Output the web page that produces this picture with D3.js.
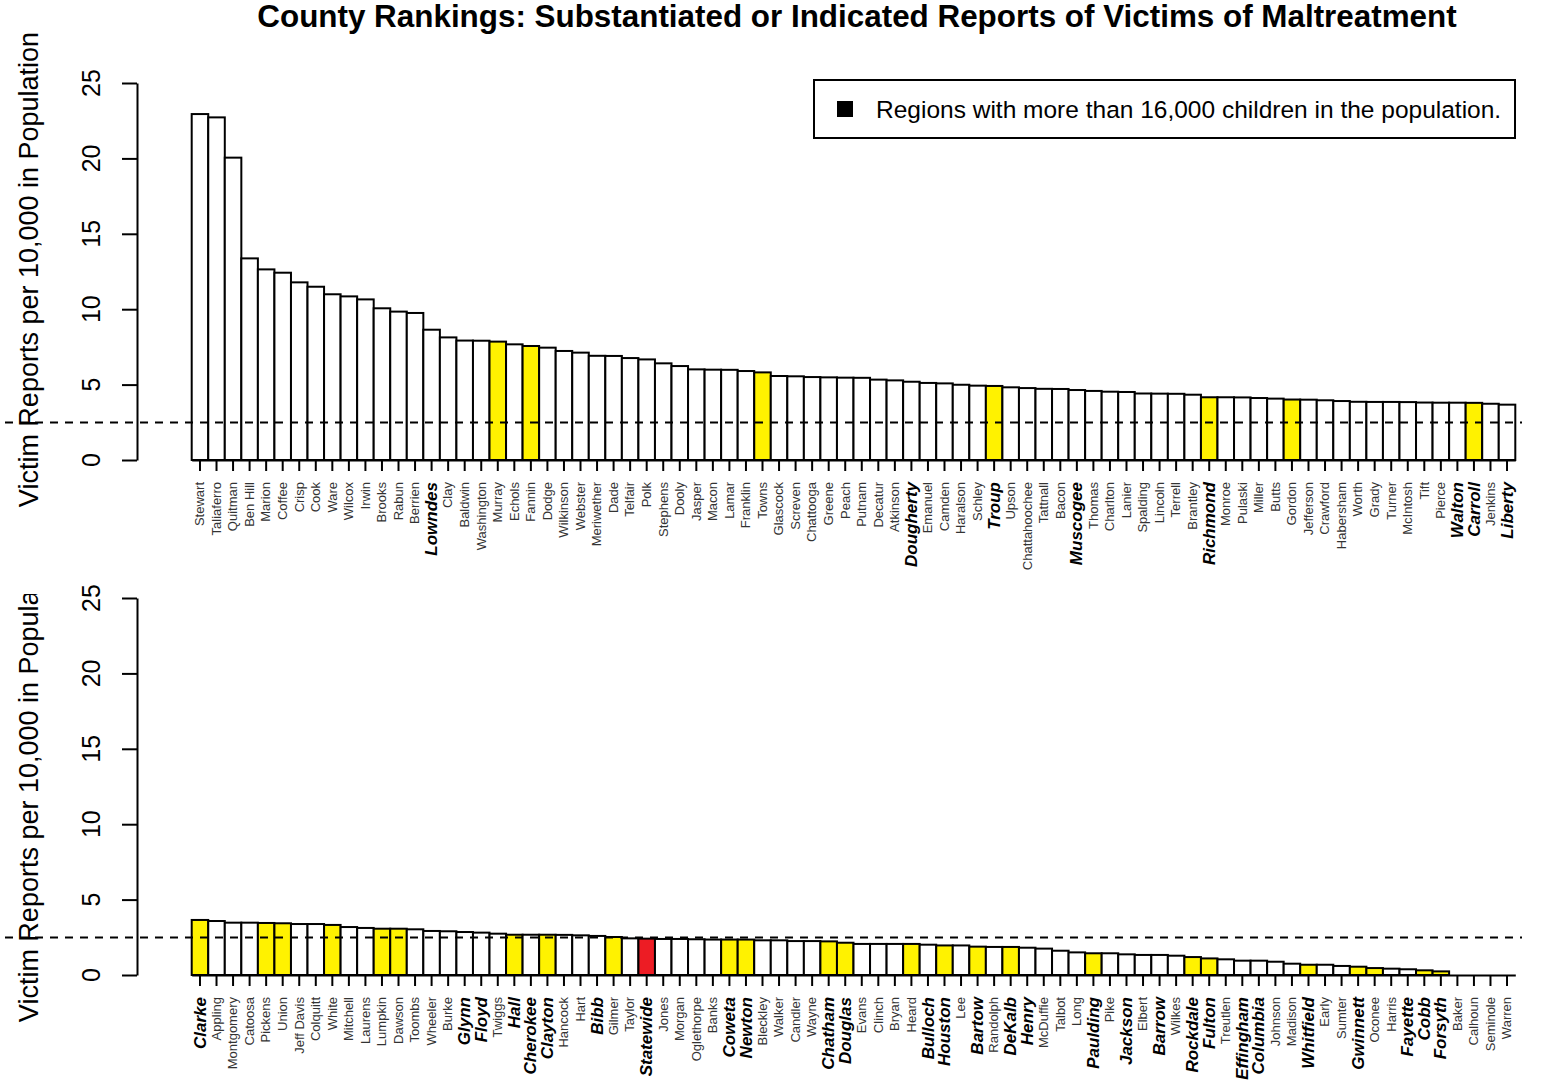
<!DOCTYPE html>
<html>
<head>
<meta charset="utf-8">
<script src="https://cdn.jsdelivr.net/npm/d3@7"></script>
<style>
  body { margin: 0; background: #fff; }
  svg { display: block; }
  text { font-family: "Liberation Sans", Arial, sans-serif; }
</style>
</head>
<body>
<svg id="chart" width="1542" height="1088"></svg>
<script>
const topCounties = ['Stewart', 'Taliaferro', 'Quitman', 'Ben Hill', 'Marion', 'Coffee', 'Crisp', 'Cook', 'Ware', 'Wilcox',
  'Irwin', 'Brooks', 'Rabun', 'Berrien', 'Lowndes', 'Clay', 'Baldwin', 'Washington', 'Murray', 'Echols',
  'Fannin', 'Dodge', 'Wilkinson', 'Webster', 'Meriwether', 'Dade', 'Telfair', 'Polk', 'Stephens', 'Dooly',
  'Jasper', 'Macon', 'Lamar', 'Franklin', 'Towns', 'Glascock', 'Screven', 'Chattooga', 'Greene', 'Peach',
  'Putnam', 'Decatur', 'Atkinson', 'Dougherty', 'Emanuel', 'Camden', 'Haralson', 'Schley', 'Troup', 'Upson',
  'Chattahoochee', 'Tattnall', 'Bacon', 'Muscogee', 'Thomas', 'Charlton', 'Lanier', 'Spalding', 'Lincoln', 'Terrell',
  'Brantley', 'Richmond', 'Monroe', 'Pulaski', 'Miller', 'Butts', 'Gordon', 'Jefferson', 'Crawford', 'Habersham',
  'Worth', 'Grady', 'Turner', 'McIntosh', 'Tift', 'Pierce', 'Walton', 'Carroll', 'Jenkins', 'Liberty'];
const topRates = [22.94, 22.72, 20.05, 13.37, 12.64, 12.42, 11.78, 11.49, 10.99, 10.85,
  10.65, 10.06, 9.84, 9.75, 8.64, 8.13, 7.92, 7.91, 7.85, 7.67,
  7.56, 7.45, 7.23, 7.12, 6.91, 6.90, 6.76, 6.67, 6.41, 6.23,
  6.01, 5.99, 5.98, 5.90, 5.81, 5.57, 5.55, 5.50, 5.48, 5.46,
  5.45, 5.33, 5.28, 5.19, 5.11, 5.08, 4.99, 4.93, 4.91, 4.82,
  4.77, 4.72, 4.71, 4.64, 4.58, 4.53, 4.51, 4.41, 4.40, 4.39,
  4.33, 4.16, 4.16, 4.15, 4.11, 4.07, 4.01, 4.00, 3.96, 3.91,
  3.86, 3.85, 3.85, 3.84, 3.81, 3.80, 3.80, 3.79, 3.73, 3.67];

const bottomCounties = ['Clarke', 'Appling', 'Montgomery', 'Catoosa', 'Pickens', 'Union', 'Jeff Davis', 'Colquitt', 'White', 'Mitchell',
  'Laurens', 'Lumpkin', 'Dawson', 'Toombs', 'Wheeler', 'Burke', 'Glynn', 'Floyd', 'Twiggs', 'Hall',
  'Cherokee', 'Clayton', 'Hancock', 'Hart', 'Bibb', 'Gilmer', 'Taylor', 'Statewide', 'Jones', 'Morgan',
  'Oglethorpe', 'Banks', 'Coweta', 'Newton', 'Bleckley', 'Walker', 'Candler', 'Wayne', 'Chatham', 'Douglas',
  'Evans', 'Clinch', 'Bryan', 'Heard', 'Bulloch', 'Houston', 'Lee', 'Bartow', 'Randolph', 'DeKalb',
  'Henry', 'McDuffie', 'Talbot', 'Long', 'Paulding', 'Pike', 'Jackson', 'Elbert', 'Barrow', 'Wilkes',
  'Rockdale', 'Fulton', 'Treutlen', 'Effingham', 'Columbia', 'Johnson', 'Madison', 'Whitfield', 'Early', 'Sumter',
  'Gwinnett', 'Oconee', 'Harris', 'Fayette', 'Cobb', 'Forsyth', 'Baker', 'Calhoun', 'Seminole', 'Warren'];
const bottomRates = [3.65, 3.58, 3.47, 3.47, 3.45, 3.43, 3.38, 3.38, 3.32, 3.18,
  3.12, 3.07, 3.07, 3.03, 2.92, 2.90, 2.85, 2.81, 2.74, 2.67,
  2.67, 2.67, 2.66, 2.63, 2.59, 2.52, 2.43, 2.41, 2.39, 2.39,
  2.37, 2.35, 2.35, 2.35, 2.30, 2.30, 2.25, 2.25, 2.23, 2.14,
  2.06, 2.06, 2.06, 2.06, 2.01, 1.96, 1.96, 1.88, 1.86, 1.86,
  1.81, 1.75, 1.61, 1.50, 1.44, 1.44, 1.37, 1.33, 1.33, 1.28,
  1.19, 1.10, 1.04, 0.95, 0.95, 0.88, 0.75, 0.68, 0.68, 0.60,
  0.55, 0.46, 0.42, 0.38, 0.31, 0.24, 0, 0, 0, 0];

// highlighted (yellow) bars
const yellowCounties = ['Murray', 'Fannin', 'Towns', 'Troup', 'Richmond', 'Gordon', 'Carroll',
  'Clarke', 'Pickens', 'Union', 'White', 'Lumpkin', 'Dawson', 'Hall', 'Clayton', 'Gilmer',
  'Coweta', 'Newton', 'Chatham', 'Douglas', 'Heard', 'Houston', 'Bartow', 'DeKalb', 'Paulding',
  'Rockdale', 'Fulton', 'Whitfield', 'Gwinnett', 'Oconee', 'Cobb', 'Forsyth'];
// regions with more than 16,000 children (bold labels)
const largeCounties = ['Lowndes', 'Dougherty', 'Troup', 'Muscogee', 'Richmond', 'Walton', 'Carroll', 'Liberty',
  'Clarke', 'Glynn', 'Floyd', 'Hall', 'Cherokee', 'Clayton', 'Bibb', 'Statewide', 'Coweta', 'Newton',
  'Chatham', 'Douglas', 'Bulloch', 'Houston', 'Bartow', 'DeKalb', 'Henry', 'Paulding', 'Jackson', 'Barrow',
  'Rockdale', 'Fulton', 'Effingham', 'Columbia', 'Whitfield', 'Gwinnett', 'Fayette', 'Cobb', 'Forsyth'];
const statewideName = 'Statewide';
const statewideLine = 2.48;
const yTicks = [0, 5, 10, 15, 20, 25];

const title = 'County Rankings: Substantiated or Indicated Reports of Victims of Maltreatment';
const yTitle = 'Victim Reports per 10,000 in Population';
const legendText = 'Regions with more than 16,000 children in the population.';

const svg = d3.select('#chart');
const plotLeft = 191.7, plotRight = 1515.3, axisX = 137;

const panels = [
  { names: topCounties, rates: topRates, top: 83, bottom: 460, clipTop: 0 },
  { names: bottomCounties, rates: bottomRates, top: 598, bottom: 975, clipTop: 594 },
];

function barColor(name) {
  if (name === statewideName) return '#ED1C24';
  return yellowCounties.includes(name) ? '#FFF200' : '#fff';
}

panels.forEach((p, k) => {
  const x = d3.scaleBand().domain(p.names).range([plotLeft, plotRight]).padding(0);
  const y = d3.scaleLinear().domain([0, 25]).range([p.bottom, p.top]);
  const g = svg.append('g');

  g.selectAll('rect.bar')
    .data(p.names.map((n, i) => ({ name: n, value: p.rates[i] })))
    .join('rect')
    .attr('class', 'bar')
    .attr('x', d => x(d.name))
    .attr('y', d => y(d.value))
    .attr('width', x.bandwidth())
    .attr('height', d => y(0) - y(d.value))
    .attr('fill', d => barColor(d.name))
    .attr('stroke', '#000')
    .attr('stroke-width', 2);

  // x axis: ticks at bar centres, labels drawn separately
  const xAxis = g.append('g')
    .attr('transform', `translate(0, ${y(0)})`)
    .call(d3.axisBottom(x).tickSize(11).tickSizeOuter(0).tickFormat(''));
  xAxis.selectAll('path, line').attr('stroke', '#000').attr('stroke-width', 2);

  g.selectAll('text.county')
    .data(p.names)
    .join('text')
    .attr('class', 'county')
    .attr('transform', d => `translate(${x(d) + x.bandwidth() / 2}, ${y(0) + 22}) rotate(-90)`)
    .attr('dy', '0.33em')
    .attr('text-anchor', 'end')
    .attr('font-size', d => largeCounties.includes(d) ? 17 : 13)
    .attr('font-weight', d => largeCounties.includes(d) ? 'bold' : 'normal')
    .attr('font-style', d => largeCounties.includes(d) ? 'italic' : 'normal')
    .attr('fill', d => largeCounties.includes(d) ? '#000' : '#333')
    .text(d => d);

  // y axis
  const yAxis = g.append('g')
    .attr('transform', `translate(${axisX}, 0)`)
    .call(d3.axisLeft(y).tickValues(yTicks).tickSize(15).tickSizeOuter(0).tickFormat(''));
  yAxis.selectAll('path, line').attr('stroke', '#000').attr('stroke-width', 2);

  g.selectAll('text.ytick')
    .data(yTicks)
    .join('text')
    .attr('class', 'ytick')
    .attr('transform', d => `translate(100, ${y(d)}) rotate(-90)`)
    .attr('text-anchor', 'middle')
    .attr('font-size', 25)
    .text(d => d);

  // statewide reference line
  g.append('line')
    .attr('x1', 5).attr('x2', 1522)
    .attr('y1', y(statewideLine)).attr('y2', y(statewideLine))
    .attr('stroke', '#000')
    .attr('stroke-width', 2)
    .attr('stroke-dasharray', '8,7');

  // y title, clipped to the panel's figure region
  const clipId = 'clip' + k;
  svg.append('clipPath').attr('id', clipId)
    .append('rect').attr('x', 0).attr('y', p.clipTop).attr('width', 120).attr('height', 1088 - p.clipTop);
  g.append('g')
    .attr('clip-path', `url(#${clipId})`)
    .append('text')
    .attr('transform', `translate(38, ${(p.top + p.bottom) / 2 - 2}) rotate(-90)`)
    .attr('text-anchor', 'middle')
    .attr('font-size', 27)
    .text(yTitle);
});

// main title
svg.append('text')
  .attr('x', 857).attr('y', 27)
  .attr('text-anchor', 'middle')
  .attr('font-size', 31.4)
  .attr('font-weight', 'bold')
  .text(title);

// legend
const legend = svg.append('g');
legend.append('rect')
  .attr('x', 814).attr('y', 80).attr('width', 701).attr('height', 58)
  .attr('fill', '#fff').attr('stroke', '#000').attr('stroke-width', 2);
legend.append('rect')
  .attr('x', 837).attr('y', 101).attr('width', 16).attr('height', 16)
  .attr('fill', '#000');
legend.append('text')
  .attr('x', 876).attr('y', 118)
  .attr('font-size', 24.5)
  .text(legendText);
</script>
</body>
</html>
